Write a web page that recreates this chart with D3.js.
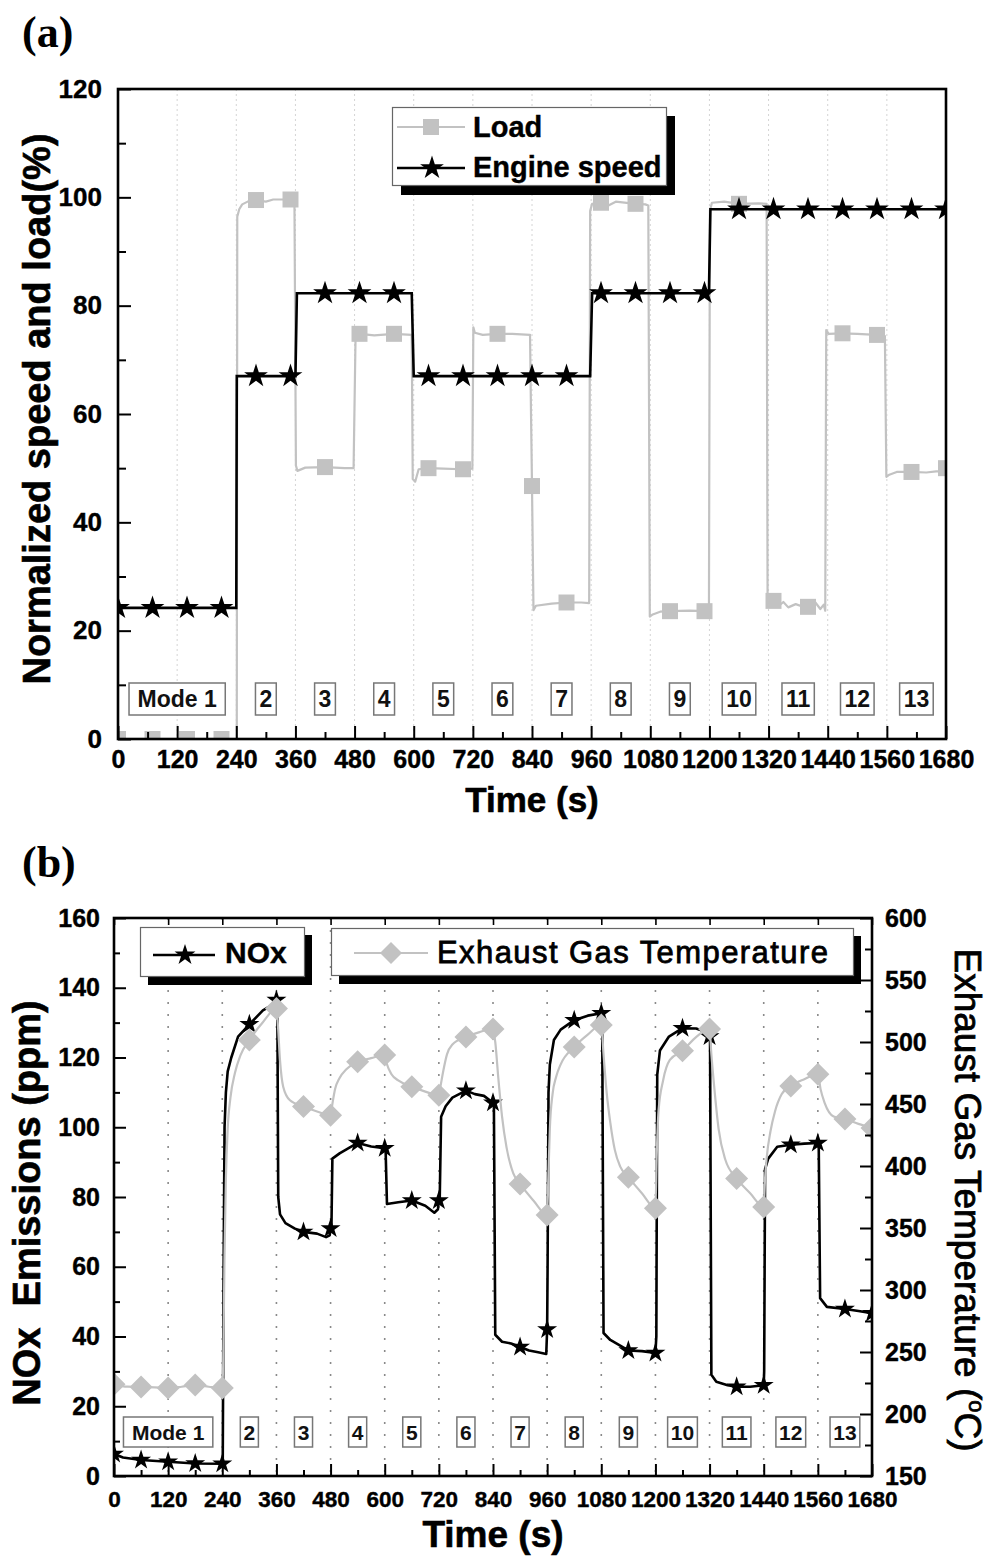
<!DOCTYPE html>
<html><head><meta charset="utf-8">
<script src="https://cdn.jsdelivr.net/npm/d3@7"></script>
<style>body{margin:0;background:#fff}svg{display:block}</style>
</head><body>
<svg id="c" width="994" height="1560"></svg>
<script>
// ---------------- DATA ----------------
const timeTicks = [0,120,240,360,480,600,720,840,960,1080,1200,1320,1440,1560,1680];
const modeLabels = ["Mode 1","2","3","4","5","6","7","8","9","10","11","12","13"];
const modeCenterT = [120,300,420,540,660,780,900,1020,1140,1260,1380,1500,1620];

// (a) Load (%) trace
const loadT = [0,240,241,242,246,252,265,280,300,315,350,358,361,364,380,420,460,478,482,490,520,560,596,598,603,610,630,660,697,719,721,724,740,770,800,836,838,840,843,848,880,910,940,956,958,962,980,995,1010,1050,1070,1076,1079,1085,1100,1120,1160,1190,1199,1201,1205,1230,1260,1300,1316,1318,1322,1330,1340,1350,1360,1375,1390,1400,1415,1425,1432,1435,1437,1442,1468,1500,1538,1556,1559,1565,1580,1608,1640,1660,1678,1680];
const loadV = [0,0,0,96.4,97.8,98.7,99.3,99.5,99.2,99.6,99.6,99.5,50.5,49.5,50.1,50.2,50.0,50.0,74.3,74.8,74.5,74.8,74.6,48,47.5,49.8,50,49.9,49.8,49.9,76,75,74.6,74.8,74.8,74.6,60,46.7,23.8,24.6,25,25.2,25.2,25.1,97.5,98.8,99,98.5,99.2,98.8,98.7,98.5,22.6,23,23.5,23.6,23.7,23.6,23.7,97.5,99,99.2,98.8,98.9,98.8,26,25.5,25.5,24.5,25.3,24.3,24.9,24.4,24.4,25.2,24,24.8,23.7,75.5,74.8,74.9,74.8,74.6,74.4,48.4,48.8,49.3,49.3,49.2,49.4,49.4,51];
const loadMarkT = [0,70,140,210,280,350,420,490,560,630,700,770,840,910,980,1050,1120,1190,1260,1330,1400,1470,1540,1610,1680];
const loadMarkV = [0,0,0,0,99.5,99.6,50.2,74.8,74.8,50,49.8,74.8,46.7,25.2,99,98.8,23.6,23.6,98.8,25.5,24.4,74.9,74.6,49.3,50];

// (a) Engine speed (%) trace
const speedT = [0,240,241,360,363,596,600,958,962,1199,1202,1680];
const speedV = [24.2,24.2,67,67,82.3,82.3,67,67,82.3,82.3,97.8,97.8];
const speedMarkT = [0,70,140,210,280,350,420,490,560,630,700,770,840,910,980,1050,1120,1190,1260,1330,1400,1470,1540,1610,1680];
const speedMarkV = [24.2,24.2,24.2,24.2,67,67,82.3,82.3,82.3,67,67,67,67,67,82.3,82.3,82.3,82.3,97.8,97.8,97.8,97.8,97.8,97.8,97.8];

// (b) NOx (ppm) trace
const noxT = [0,20,60,120,180,240,241,243,245,248,252,260,275,300,330,350,360,362,364,368,380,400,420,450,470,478,480,482,484,500,520,540,570,600,602,605,630,660,690,710,718,720,722,725,735,750,780,800,820,840,842,845,860,880,900,920,940,958,960,961,963,966,975,990,1020,1050,1080,1082,1085,1100,1120,1140,1170,1200,1202,1204,1210,1230,1260,1290,1320,1321,1324,1335,1360,1380,1410,1440,1441,1443,1450,1470,1500,1530,1560,1562,1565,1580,1620,1650,1680];
const noxV = [6.3,5.3,4.6,4.1,3.6,3.5,3.5,60,100,110,116,120,126,129.5,133.5,135,136.5,136,80,75,72.5,71,70,69.5,68.5,69,71,72,91,92.5,94,95.5,94.5,94,93.5,78,78.5,79,77.5,75.5,76.5,79,80,103,106,108.5,110.5,109.5,109,107,106,40.5,38.5,38,37,36,35.5,35,42,60,110,118,125,128,130.7,132,132.7,132,41,39,37.5,36,35.8,35.3,40,115,122,126,128.4,128.3,127,126,29,27,26,25.6,25.6,26,30,88,91,94.4,95,95.3,95.5,94,51,48.5,47.9,47.3,46.7];
const noxMarkT = [0,60,120,180,240,300,360,420,480,540,600,660,720,780,840,900,960,1020,1080,1140,1200,1260,1320,1380,1440,1500,1560,1620,1680];
const noxMarkV = [6.3,4.6,4.1,3.6,3.5,129.5,136.5,70,71,95.5,94,79,79,110.5,107,37,42,130.7,132.7,36,35.3,128.4,126,25.6,26,95,95.5,47.9,46.7];

// (b) Exhaust gas temperature (°C) trace
const egtT = [0,30,60,90,120,150,180,210,240,242,245,248,252,258,268,280,300,330,360,363,368,375,390,420,450,480,484,490,500,515,540,570,600,605,615,630,660,690,720,724,730,738,750,780,810,840,845,852,860,870,885,900,930,960,963,966,972,980,990,1020,1050,1080,1085,1092,1100,1110,1122,1140,1170,1200,1203,1207,1217,1232,1260,1290,1320,1324,1330,1340,1355,1380,1410,1440,1443,1447,1455,1465,1480,1500,1530,1560,1566,1575,1595,1620,1650,1680];
const egtV = [224,222,221.8,221.5,221,222,223.4,222,221,240,330,390,430,455,475,489,501.6,516,527,515,485,464,453,448,444,441,450,462,471,478,484,487,489.5,482,474,469,464,460,457,465,477,490,498,504,508,510.5,500,470,440,415,394,385.5,372,360.5,395,430,458,472,482,496,506,513.7,490,459,435,413,399.5,391,378,366,410,445,469,485.5,493,504,510.5,490,465,430,405,390,378,367,390,408,428,444,458,464.5,470,474,462,451,440,438,434,430.6];
const egtMarkT = [0,60,120,180,240,300,360,420,480,540,600,660,720,780,840,900,960,1020,1080,1140,1200,1260,1320,1380,1440,1500,1560,1620,1680];
const egtMarkV = [224,221.8,221,223.4,221,501.6,527,448,441,484,489.5,464,457,504,510.5,385.5,360.5,496,513.7,391,366,493,510.5,390,367,464.5,474,438,430.6];

// ---------------- DRAW ----------------
const FONT = '"Liberation Sans", Arial, Helvetica, sans-serif';
const SERIF = '"Liberation Serif", "Times New Roman", serif';
const GRAY = "#c2c2c2";
const svg = d3.select("#c");
svg.append("rect").attr("width",994).attr("height",1560).attr("fill","#fff");
const zip = (a,b) => a.map((t,i)=>[t,b[i]]);
const starType = d3.symbolStar;
const diamondType = {draw(ctx,size){const r=Math.sqrt(size)/2;ctx.moveTo(0,-r);ctx.lineTo(r,0);ctx.lineTo(0,r);ctx.lineTo(-r,0);ctx.closePath();}};
function starSize(r){return r*r/0.8908130915292852;}
function boldText(sel, fs){
  return sel.attr("font-family",FONT).attr("font-weight","bold").attr("font-size",fs)
    .attr("fill","#000").attr("stroke","#000").attr("stroke-width",0.4);
}

function styleAxis(g, fs, sw){
  g.select(".domain").remove();
  g.selectAll("line").attr("stroke","#000").attr("stroke-width",sw||2);
  boldText(g.selectAll("text"), fs);
}
function modeBoxes(g, xs, yc, fs, padBig, padSmall, h){
  modeLabels.forEach((lab,i)=>{
    const gg = g.append("g");
    const t = gg.append("text").attr("x",xs(modeCenterT[i])).attr("y",yc).attr("dy","0.36em")
      .attr("text-anchor","middle").attr("font-family",FONT).attr("font-weight","bold")
      .attr("font-size",fs).attr("fill","#111").text(lab);
    const w = t.node().getComputedTextLength();
    const p = lab.length>2?padBig:padSmall;
    gg.insert("rect","text").attr("x",xs(modeCenterT[i])-w/2-p).attr("y",yc-h/2)
      .attr("width",w+2*p).attr("height",h).attr("fill","#fff").attr("stroke","#777").attr("stroke-width",1.5);
  });
}

// ===== (a) =====
const xa = d3.scaleLinear().domain([0,1680]).range([118,946]);
const ya = d3.scaleLinear().domain([0,120]).range([739,89]);
svg.append("defs").append("clipPath").attr("id","clipA").append("rect")
  .attr("x",118).attr("y",89).attr("width",828).attr("height",650);
svg.append("g").selectAll("line").data(timeTicks.slice(1,-1)).join("line")
  .attr("x1",d=>xa(d)).attr("x2",d=>xa(d)).attr("y1",89).attr("y2",739)
  .attr("stroke","#d4d4d4").attr("stroke-width",1).attr("stroke-dasharray","2,3");

const gA = svg.append("g").attr("clip-path","url(#clipA)");
const lineA = d3.line().x(d=>xa(d[0])).y(d=>ya(d[1]));
gA.append("path").datum(zip(loadT,loadV)).attr("d",lineA).attr("fill","none").attr("stroke",GRAY).attr("stroke-width",2.2).attr("stroke-linejoin","round");
gA.selectAll(".sq").data(zip(loadMarkT,loadMarkV)).join("path").attr("class","sq")
  .attr("transform",d=>`translate(${xa(d[0])},${ya(d[1])})`).attr("d",d3.symbol(d3.symbolSquare,256)).attr("fill",GRAY);
gA.append("path").datum(zip(speedT,speedV)).attr("d",lineA).attr("fill","none").attr("stroke","#000").attr("stroke-width",2.6);
gA.selectAll(".st").data(zip(speedMarkT,speedMarkV)).join("path").attr("class","st")
  .attr("transform",d=>`translate(${xa(d[0])},${ya(d[1])})`).attr("d",d3.symbol(starType,starSize(12.5))).attr("fill","#000");

modeBoxes(svg.append("g"), xa, 699, 23, 8.5, 4, 32);

// axes a
let g;
g = svg.append("g").attr("transform","translate(0,739)").call(d3.axisBottom(xa).tickValues(timeTicks).tickSize(-13).tickSizeOuter(0).tickPadding(11).tickFormat(d3.format("d")));
styleAxis(g,25);
g = svg.append("g").attr("transform","translate(0,739)").call(d3.axisBottom(xa).tickValues(d3.range(60,1680,120)).tickSize(-7).tickSizeOuter(0).tickFormat(""));
styleAxis(g,25);
g = svg.append("g").attr("transform","translate(118,0)").call(d3.axisLeft(ya).tickValues([0,20,40,60,80,100,120]).tickSize(-13).tickSizeOuter(0).tickPadding(16));
styleAxis(g,26);
g = svg.append("g").attr("transform","translate(118,0)").call(d3.axisLeft(ya).tickValues(d3.range(10,120,20)).tickSize(-8).tickSizeOuter(0).tickFormat(""));
styleAxis(g,26);
svg.append("rect").attr("x",118).attr("y",89).attr("width",828).attr("height",650).attr("fill","none").attr("stroke","#000").attr("stroke-width",2.6);

// legend a
svg.append("rect").attr("x",401).attr("y",116).attr("width",274).attr("height",79).attr("fill","#000");
svg.append("rect").attr("x",392.5).attr("y",107.5).attr("width",274).attr("height",78).attr("fill","#fff").attr("stroke","#666").attr("stroke-width",1.2);
svg.append("line").attr("x1",397).attr("x2",465).attr("y1",127).attr("y2",127).attr("stroke",GRAY).attr("stroke-width",2.2);
svg.append("path").attr("transform","translate(431,127)").attr("d",d3.symbol(d3.symbolSquare,256)).attr("fill",GRAY);
svg.append("line").attr("x1",397).attr("x2",465).attr("y1",168).attr("y2",168).attr("stroke","#000").attr("stroke-width",2.6);
svg.append("path").attr("transform","translate(432,168)").attr("d",d3.symbol(starType,starSize(12.5))).attr("fill","#000");
boldText(svg.append("text").attr("x",473).attr("y",137),29).text("Load");
boldText(svg.append("text").attr("x",473).attr("y",177),29).text("Engine speed");

// titles a
svg.append("text").attr("x",22).attr("y",47).attr("font-family",SERIF).attr("font-weight","bold").attr("font-size",44).text("(a)");
boldText(svg.append("text").attr("x",532).attr("y",812).attr("text-anchor","middle"),35).attr("stroke-width",0.6).text("Time (s)");
boldText(svg.append("text").attr("transform","translate(50,409) rotate(-90)").attr("text-anchor","middle"),38).attr("stroke-width",0.6).text("Normalized speed and load(%)");

// ===== (b) =====
const xb = d3.scaleLinear().domain([0,1680]).range([114,872]);
const yb = d3.scaleLinear().domain([0,160]).range([1476,918]);
const yr = d3.scaleLinear().domain([150,600]).range([1476,918]);
svg.select("defs").append("clipPath").attr("id","clipB").append("rect")
  .attr("x",114).attr("y",918).attr("width",758).attr("height",558);
svg.append("g").selectAll("line").data(timeTicks.slice(1,-1)).join("line")
  .attr("x1",d=>xb(d)).attr("x2",d=>xb(d)).attr("y1",918).attr("y2",1476)
  .attr("stroke","#8a8a8a").attr("stroke-width",1.6).attr("stroke-dasharray","2,10");

const gB = svg.append("g").attr("clip-path","url(#clipB)");
const lineN = d3.line().x(d=>xb(d[0])).y(d=>yb(d[1]));
const lineE = d3.line().x(d=>xb(d[0])).y(d=>yr(d[1])).curve(d3.curveMonotoneX);
gB.append("path").datum(zip(noxT,noxV)).attr("d",lineN).attr("fill","none").attr("stroke","#000").attr("stroke-width",2.6).attr("stroke-linejoin","round");
gB.selectAll(".ns").data(zip(noxMarkT,noxMarkV)).join("path").attr("class","ns")
  .attr("transform",d=>`translate(${xb(d[0])},${yb(d[1])})`).attr("d",d3.symbol(starType,starSize(10.5))).attr("fill","#000");
gB.append("path").datum(zip(egtT,egtV)).attr("d",lineE).attr("fill","none").attr("stroke",GRAY).attr("stroke-width",2.2);
gB.selectAll(".dm").data(zip(egtMarkT,egtMarkV)).join("path").attr("class","dm")
  .attr("transform",d=>`translate(${xb(d[0])},${yr(d[1])})`).attr("d",d3.symbol(diamondType,23*23)).attr("fill",GRAY);

modeBoxes(svg.append("g"), xb, 1432, 21, 8.5, 3.2, 30);

// axes b
g = svg.append("g").attr("transform","translate(0,1476)").call(d3.axisBottom(xb).tickValues(timeTicks).tickSize(-12).tickSizeOuter(0).tickPadding(15).tickFormat(d3.format("d")));
styleAxis(g,22.5);
g = svg.append("g").attr("transform","translate(0,1476)").call(d3.axisBottom(xb).tickValues(d3.range(60,1680,120)).tickSize(-6).tickSizeOuter(0).tickFormat(""));
styleAxis(g,22);
g = svg.append("g").attr("transform","translate(0,918)").call(d3.axisTop(xb).tickValues(timeTicks).tickSize(-7).tickSizeOuter(0).tickFormat(""));
styleAxis(g,22,1.6);
g = svg.append("g").attr("transform","translate(114,0)").call(d3.axisLeft(yb).tickValues(d3.range(0,161,20)).tickSize(-12).tickSizeOuter(0).tickPadding(14));
styleAxis(g,25);
g = svg.append("g").attr("transform","translate(114,0)").call(d3.axisLeft(yb).tickValues(d3.range(10,160,20)).tickSize(-6).tickSizeOuter(0).tickFormat(""));
styleAxis(g,25);
g = svg.append("g").attr("transform","translate(872,0)").call(d3.axisRight(yr).tickValues(d3.range(150,601,50)).tickSize(-12).tickSizeOuter(0).tickPadding(13));
styleAxis(g,25);
g = svg.append("g").attr("transform","translate(872,0)").call(d3.axisRight(yr).tickValues(d3.range(175,600,50)).tickSize(-7).tickSizeOuter(0).tickFormat(""));
styleAxis(g,25);
svg.append("rect").attr("x",114).attr("y",918).attr("width",758).attr("height",558).attr("fill","none").attr("stroke","#000").attr("stroke-width",2.6);

// legends b
svg.append("rect").attr("x",148).attr("y",935).attr("width",164).attr("height",50).attr("fill","#000");
svg.append("rect").attr("x",140.5).attr("y",927.5).attr("width",164).attr("height",49).attr("fill","#fff").attr("stroke","#666").attr("stroke-width",1.2);
svg.append("line").attr("x1",153).attr("x2",215).attr("y1",955).attr("y2",955).attr("stroke","#000").attr("stroke-width",2.4);
svg.append("path").attr("transform","translate(185,955)").attr("d",d3.symbol(starType,starSize(11))).attr("fill","#000");
boldText(svg.append("text").attr("x",225).attr("y",963),30).text("NOx");

svg.append("rect").attr("x",339).attr("y",936).attr("width",522).attr("height",48).attr("fill","#000");
svg.append("rect").attr("x",331.5).attr("y",928.5).attr("width",522).attr("height",47).attr("fill","#fff").attr("stroke","#666").attr("stroke-width",1.2);
svg.append("line").attr("x1",354).attr("x2",428).attr("y1",953).attr("y2",953).attr("stroke",GRAY).attr("stroke-width",2.2);
svg.append("path").attr("transform","translate(391,953)").attr("d",d3.symbol(diamondType,22*22)).attr("fill",GRAY);
svg.append("text").attr("x",437).attr("y",963).attr("font-family",FONT).attr("font-size",31)
  .attr("stroke","#000").attr("stroke-width",0.8).attr("textLength",391).attr("lengthAdjust","spacing").text("Exhaust Gas Temperature");

// titles b
svg.append("text").attr("x",22).attr("y",877).attr("font-family",SERIF).attr("font-weight","bold").attr("font-size",44).text("(b)");
boldText(svg.append("text").attr("x",493).attr("y",1547).attr("text-anchor","middle"),37).attr("stroke-width",0.6).text("Time (s)");
boldText(svg.append("text").attr("transform","translate(40,1203) rotate(-90)").attr("text-anchor","middle"),38).attr("stroke-width",0.6).style("white-space","pre").text("NOx  Emissions (ppm)");
const rt = svg.append("text").attr("transform","translate(955,1200) rotate(90)").attr("text-anchor","middle").attr("font-family",FONT).attr("font-size",37).attr("stroke","#000").attr("stroke-width",0.8);
rt.append("tspan").text("Exhaust Gas Temperature (");
rt.append("tspan").attr("dy",-14).attr("font-size",22).text("o");
rt.append("tspan").attr("dy",14).text("C)");
</script>
</body></html>
